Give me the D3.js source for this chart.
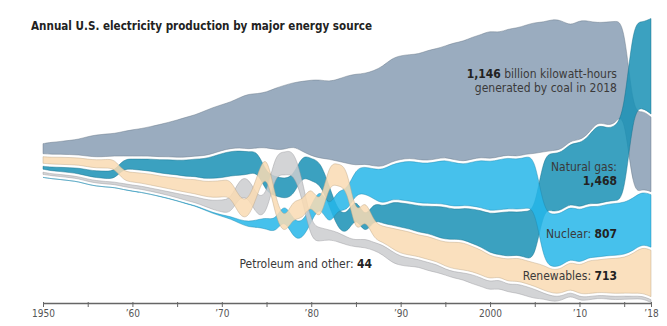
<!DOCTYPE html>
<html>
<head>
<meta charset="utf-8">
<script src="https://cdn.jsdelivr.net/npm/d3@7"></script>
<style>
  body { margin: 0; background: #fff; }
  text { font-family: 'Liberation Sans Narrow', 'DejaVu Sans Condensed', 'Roboto', sans-serif; }
</style>
</head>
<body>
<svg id="chart" width="667" height="326"></svg>
<script>
// billion kWh, 1950 .. 2018
const years = d3.range(1950, 2019);

const coal = [
  154.5, 185.2, 195.4, 218.8, 239.1, 301.4, 338.5, 346.4, 344.4, 378.4,
  403.1, 422.3, 450.2, 493.9, 526.2, 570.9, 613.5, 630.5, 684.9, 706.0,
  704.4, 713.1, 771.1, 847.7, 828.4, 852.8, 944.4, 985.2, 975.7, 1075.0,
  1161.6, 1203.2, 1192.0, 1259.4, 1341.7, 1402.1, 1385.8, 1463.8, 1540.7, 1583.8,
  1594.0, 1590.6, 1621.2, 1690.1, 1690.7, 1709.4, 1795.2, 1845.0, 1873.5, 1881.1,
  1966.3, 1904.0, 1933.1, 1973.7, 1978.3, 2012.9, 1990.5, 2016.5, 1985.8, 1755.9,
  1847.3, 1733.4, 1514.0, 1581.1, 1581.7, 1352.4, 1239.1, 1205.8, 1146.0
];
const naturalGas = [
  44.6, 57.0, 65.0, 74.0, 87.0, 95.3, 103.6, 113.3, 120.7, 146.9,
  158.0, 169.8, 184.4, 201.7, 220.3, 221.6, 251.2, 264.8, 304.4, 333.3,
  372.9, 374.7, 375.7, 340.9, 320.1, 299.8, 294.6, 305.5, 305.4, 329.5,
  346.2, 345.8, 305.3, 274.1, 297.4, 291.9, 248.5, 272.6, 252.8, 352.6,
  372.8, 381.6, 404.1, 414.9, 460.2, 496.1, 455.1, 479.4, 531.3, 556.4,
  601.0, 639.1, 691.0, 649.9, 710.1, 761.0, 816.4, 896.6, 883.0, 921.0,
  987.7, 1013.7, 1225.9, 1124.8, 1126.6, 1333.5, 1378.3, 1296.4, 1468.0
];
const nuclear = [
  0, 0, 0, 0, 0, 0, 0, 0.01, 0.2, 0.2,
  0.5, 1.7, 2.3, 3.2, 3.3, 3.7, 5.5, 7.7, 12.5, 13.9,
  21.8, 38.1, 54.1, 83.5, 114.0, 172.5, 191.1, 250.9, 276.4, 255.2,
  251.1, 272.7, 282.8, 293.7, 327.6, 383.7, 414.0, 455.3, 527.0, 529.4,
  576.9, 612.6, 618.8, 610.3, 640.4, 673.4, 674.7, 628.6, 673.7, 728.3,
  753.9, 768.8, 780.1, 763.7, 788.5, 782.0, 787.2, 806.4, 806.2, 798.9,
  807.0, 790.2, 769.3, 789.0, 797.2, 797.2, 805.7, 805.0, 807.1
];
const renewables = [
  101.3, 104.8, 110.0, 109.9, 111.4, 116.5, 123.6, 130.8, 140.7, 138.8,
  149.4, 152.8, 169.4, 166.4, 177.3, 196.3, 195.6, 222.8, 223.6, 251.1,
  248.5, 267.9, 274.2, 274.0, 303.4, 303.2, 287.6, 224.4, 283.7, 284.0,
  281.4, 266.9, 314.4, 338.8, 329.3, 291.6, 303.0, 262.1, 236.6, 312.0,
  357.2, 356.0, 327.0, 356.0, 336.0, 367.0, 409.0, 419.0, 386.0, 384.0,
  356.5, 287.7, 343.8, 355.3, 351.5, 357.7, 385.8, 352.7, 380.9, 417.7,
  427.4, 513.0, 494.6, 522.4, 539.5, 544.4, 610.1, 707.1, 713.0
];
const petroleumOther = [
  33.7, 29.5, 30.5, 32.0, 31.0, 37.1, 36.5, 39.0, 38.0, 45.0,
  48.0, 49.0, 48.5, 52.0, 57.0, 64.8, 78.9, 89.3, 104.3, 137.8,
  184.2, 220.2, 274.3, 314.3, 300.9, 289.1, 320.0, 358.2, 365.1, 303.5,
  246.0, 206.4, 146.8, 144.5, 119.8, 100.2, 136.6, 118.5, 148.9, 172.0,
  137, 130, 113, 126, 120, 90, 96, 106, 141, 130,
  124, 137, 111, 140, 144, 142, 85, 85, 63, 57,
  56, 50, 44, 49, 50, 50, 44, 40, 44
];

const seriesNames = ['coal', 'naturalGas', 'nuclear', 'petroleumOther', 'renewables'];
const seriesValues = { coal, naturalGas, nuclear, petroleumOther, renewables };
const seriesColors = {
  coal: '#889db4',
  naturalGas: '#1991b5',
  nuclear: '#26b6e9',
  renewables: '#f9dbb3',
  petroleumOther: '#cbcccf'
};

const tickYears = [1950, 1955, 1960, 1965, 1970, 1975, 1980, 1985, 1990, 1995, 2000, 2005, 2010, 2015, 2018];
const labelYears = [1950, 1960, 1970, 1980, 1990, 2000, 2010, 2018];

const chart = {
  left: 43,
  right: 651,
  axisY: 303,
  centerY: 160.5,
  gap: 3
};

const svg = d3.select('#chart');

const x = d3.scaleLinear()
  .domain([1950, 2018])
  .range([chart.left, chart.right]);

// ribbon thickness per billion kWh
const thickness = d3.scaleLinear()
  .domain([0, 1000])
  .range([0, 65.1]);

// every year the sources are re-sorted, biggest on top, and the whole stack centred
const layout = {};
seriesNames.forEach((s) => { layout[s] = []; });

years.forEach((year, i) => {
  const order = seriesNames.slice()
    .sort((a, b) => seriesValues[b][i] - seriesValues[a][i]);
  const total = d3.sum(order, (s) => thickness(seriesValues[s][i])) + chart.gap * (order.length - 1);
  let y = chart.centerY - total / 2;
  order.forEach((s) => {
    const h = thickness(seriesValues[s][i]);
    layout[s].push({ year, top: y, bottom: y + h });
    y += h + chart.gap;
  });
});

const area = d3.area()
  .x((d) => x(d.year))
  .y0((d) => d.bottom)
  .y1((d) => d.top)
  .curve(d3.curveBasis);

const drawOrder = ['coal', 'naturalGas', 'nuclear', 'petroleumOther', 'renewables'];

svg.append('g')
  .attr('class', 'ribbons')
  .selectAll('path')
  .data(drawOrder)
  .join('path')
  .attr('d', (s) => area(layout[s]))
  .attr('fill', (s) => seriesColors[s])
  .attr('fill-opacity', 0.85)
  .attr('stroke', (s) => d3.color(seriesColors[s]).darker(0.8))
  .attr('stroke-width', 0.6)
  .attr('stroke-opacity', 0.75);

// axis
const yearLabel = (y) => {
  if (!labelYears.includes(y)) { return ''; }
  if (y === 1950 || y === 2000) { return String(y); }
  return '\u2019' + String(y).slice(2);
};

const axis = svg.append('g')
  .attr('transform', 'translate(0,' + chart.axisY + ')')
  .call(d3.axisBottom(x)
    .tickValues(tickYears)
    .tickFormat(yearLabel)
    .tickSize(4)
    .tickSizeOuter(0));

axis.select('.domain')
  .attr('stroke', '#666')
  .attr('stroke-width', 1.3);
axis.selectAll('.tick line')
  .attr('stroke', '#666')
  .attr('y1', -1);
axis.selectAll('.tick text')
  .attr('fill', '#555')
  .style('font-size', '10px');

// title
svg.append('text')
  .attr('x', 31)
  .attr('y', 30)
  .attr('fill', '#222')
  .attr('textLength', 341)
  .attr('lengthAdjust', 'spacingAndGlyphs')
  .style('font-size', '13px')
  .style('font-weight', 700)
  .text('Annual U.S. electricity production by major energy source');

// annotations
const notes = [
  { x: 617, y: 77.5, parts: [['1,146', true], [' billion kilowatt-hours', false]] },
  { x: 617, y: 91.5, parts: [['generated by coal in 2018', false]] },
  { x: 617, y: 170.5, parts: [['Natural gas:', false]] },
  { x: 617, y: 184.5, parts: [['1,468', true]] },
  { x: 617, y: 238, parts: [['Nuclear: ', false], ['807', true]] },
  { x: 617, y: 280, parts: [['Renewables: ', false], ['713', true]] },
  { x: 372, y: 268, parts: [['Petroleum and other: ', false], ['44', true]] }
];

const noteText = svg.append('g')
  .selectAll('text')
  .data(notes)
  .join('text')
  .attr('x', (d) => d.x)
  .attr('y', (d) => d.y)
  .attr('text-anchor', 'end')
  .attr('fill', '#333')
  .style('font-size', '12px');

noteText.selectAll('tspan')
  .data((d) => d.parts)
  .join('tspan')
  .style('font-weight', (p) => p[1] ? 700 : 400)
  .attr('fill', (p) => p[1] ? '#222' : '#3a3a3a')
  .text((p) => p[0]);
</script>
</body>
</html>
